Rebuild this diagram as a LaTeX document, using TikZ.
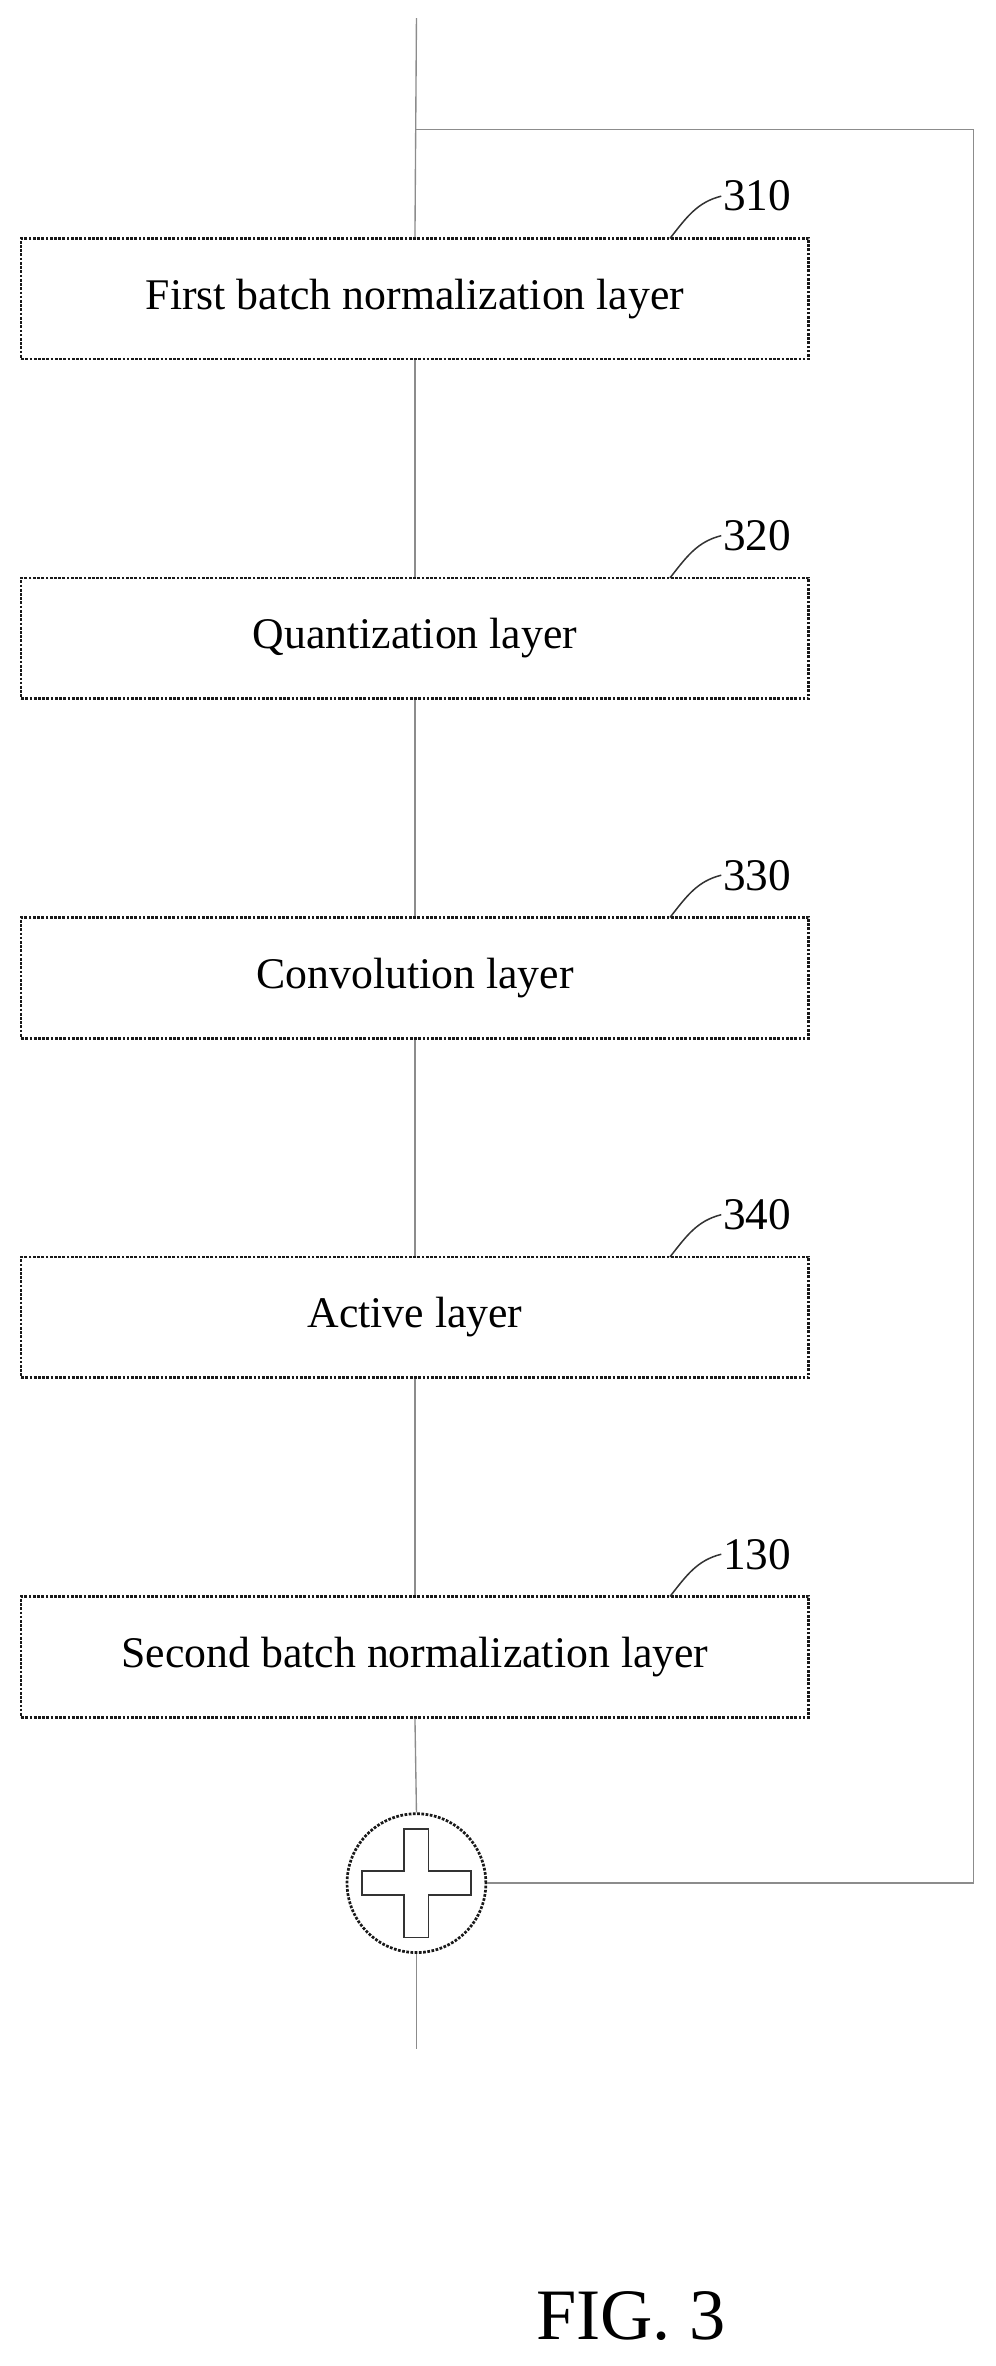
\documentclass[tikz,border=0pt]{standalone}
\usepackage{fontspec}
\setmainfont{Liberation Serif}
\begin{document}
\begin{tikzpicture}[x=1pt,y=-1pt,
  box/.style={draw=black!90,line width=1.8pt,densely dotted,minimum width=522pt,minimum height=80pt,inner sep=0pt,font=\fontsize{29}{32}\selectfont},
  num/.style={font=\fontsize{30}{32}\selectfont,inner sep=1pt},
  wire/.style={draw=black!45,line width=0.9pt},
  lead/.style={draw=black!80,line width=1pt}]
\useasboundingbox (0,0) rectangle (660,1568);
\node[box] (b1) at (275,198) {First batch normalization layer};
\node[box] (b2) at (275,423) {Quantization layer};
\node[box] (b3) at (275,648) {Convolution layer};
\node[box] (b4) at (275,873) {Active layer};
\node[box] (b5) at (275,1098) {Second batch normalization layer};
\foreach \i/\t/\y in {1/310/130,2/320/355,3/330/580,4/340/805,5/130/1030}{
  \node[num,anchor=west] (n\i) at (478,\y) {\t};
  \draw[lead] (444,\y+28) .. controls (455,\y+14) and (462,\y+4) .. (n\i.west);
}
\node[circle,draw=black!90,line width=1.8pt,densely dotted,minimum size=92pt] (add) at (276,1248) {};
\draw[line width=1.2pt,black!80] (268,1212)--(284,1212)--(284,1240)--(312,1240)--(312,1256)--(284,1256)--(284,1284)--(268,1284)--(268,1256)--(240,1256)--(240,1240)--(268,1240)--cycle;
\coordinate (top) at (276,12);
\coordinate (bot) at (276,1358);
\coordinate (tap) at (276,86);
\coordinate (c1) at (645,86);
\coordinate (c2) at (645,1248);
\draw[wire] (top)--(b1.north);
\draw[wire] (b1.south)--(b2.north);
\draw[wire] (b2.south)--(b3.north);
\draw[wire] (b3.south)--(b4.north);
\draw[wire] (b4.south)--(b5.north);
\draw[wire] (b5.south)--(add.north);
\draw[wire] (add.south)--(bot);
\draw[wire] (tap)--(c1)--(c2)--(add.east);
\node[font=\fontsize{48}{50}\selectfont] (fig) at (418,1535) {FIG. 3};
\end{tikzpicture}
\end{document}
